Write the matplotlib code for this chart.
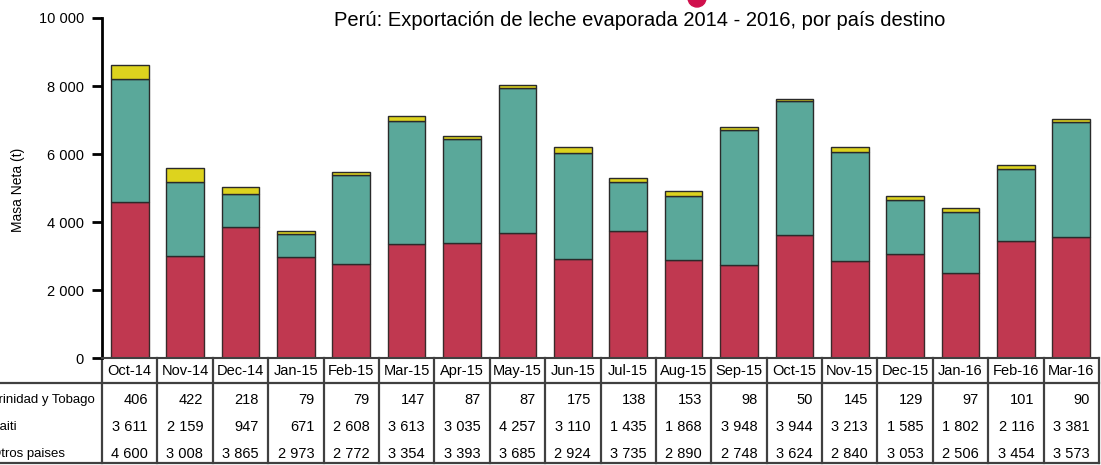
import numpy as np
import matplotlib.pyplot as plt
from matplotlib.patches import Ellipse

plt.rcParams['font.family'] = ['Liberation Sans', 'DejaVu Sans']

months = ['Oct-14', 'Nov-14', 'Dec-14', 'Jan-15', 'Feb-15', 'Mar-15', 'Apr-15', 'May-15', 'Jun-15',
          'Jul-15', 'Aug-15', 'Sep-15', 'Oct-15', 'Nov-15', 'Dec-15', 'Jan-16', 'Feb-16', 'Mar-16']
trinidad = [406, 422, 218, 79, 79, 147, 87, 87, 175, 138, 153, 98, 50, 145, 129, 97, 101, 90]
haiti = [3611, 2159, 947, 671, 2608, 3613, 3035, 4257, 3110, 1435, 1868, 3948, 3944, 3213, 1585, 1802, 2116, 3381]
otros = [4600, 3008, 3865, 2973, 2772, 3354, 3393, 3685, 2924, 3735, 2890, 2748, 3624, 2840, 3053, 2506, 3454, 3573]
row_names = ['Trinidad y Tobago', 'Haiti', 'Otros paises']
yticks = [0, 2000, 4000, 6000, 8000, 10000]

c_red = '#C03850'
c_teal = '#5AA89A'
c_yel = '#DDD31E'
grid_c = '#404040'

def fmt(v):
    return '{:,}'.format(v).replace(',', ' ')

fig = plt.figure(figsize=(11.01, 4.65), dpi=100)
ax = fig.add_axes([102/1101, 107/465, 997/1101, 340/465])

x = np.arange(len(months))
w = 0.68
ax.bar(x, otros, w, color=c_red, edgecolor='#3a2a2a', lw=1.0)
ax.bar(x, haiti, w, bottom=otros, color=c_teal, edgecolor='#2a2a2a', lw=1.0)
bot2 = np.array(otros) + np.array(haiti)
ax.bar(x, trinidad, w, bottom=bot2, color=c_yel, edgecolor='#2a2a2a', lw=1.0)

ax.set_xlim(-0.5, len(months) - 0.5)
ax.set_ylim(0, 10000)
ax.set_yticks(yticks)
ax.set_yticklabels([fmt(v) for v in yticks], fontsize=10.5)
ax.tick_params(axis='y', length=7, width=2, pad=6)
ax.set_xticks([])
for s in ['top', 'right']:
    ax.spines[s].set_visible(False)
ax.spines['left'].set_linewidth(2)
ax.spines['bottom'].set_color(grid_c)
ax.spines['bottom'].set_linewidth(1.5)

fig.text(18/1101, 1 - 190/465, 'Masa Neta (t)', rotation=90, ha='center', va='center', fontsize=10)
fig.text(640/1101, 1 - 20/465, 'Perú: Exportación de leche evaporada 2014 - 2016, por país destino',
         ha='center', va='center', fontsize=14.5)

# data table under the axis
trans = ax.get_xaxis_transform()
y_head = -0.038
y_rows = [-0.124, -0.203, -0.282]
y_sep = -0.0735
y_bot = -0.309
for i in range(len(months) + 1):
    ax.plot([i - 0.5, i - 0.5], [0, y_bot], transform=trans, color=grid_c, lw=1.6, clip_on=False)
ax.plot([-2.6, len(months) - 0.5], [y_sep, y_sep], transform=trans, color=grid_c, lw=1.6, clip_on=False)
ax.plot([-2.6, len(months) - 0.5], [y_bot, y_bot], transform=trans, color=grid_c, lw=1.6, clip_on=False)

for i, m in enumerate(months):
    ax.text(i, y_head, m, transform=trans, ha='center', va='center', fontsize=10.5, clip_on=False)
for vals, yy in zip([trinidad, haiti, otros], y_rows):
    for i, v in enumerate(vals):
        ax.text(i + 0.33, yy, fmt(v), transform=trans, ha='right', va='center', fontsize=10.5, clip_on=False)
# row labels start left of the figure edge, as in the source image
for name, yy in zip(row_names, y_rows):
    ax.text(-2.504, yy, name, transform=trans, ha='left', va='center', fontsize=9.5, clip_on=False)

# small marker cut off at the top edge
fig.patches.append(Ellipse((697/1101, 1 + 2/465), 18/1101, 18/465, color='#D0104C',
                           transform=fig.transFigure, figure=fig))

fig.savefig('out.png', dpi=100)
